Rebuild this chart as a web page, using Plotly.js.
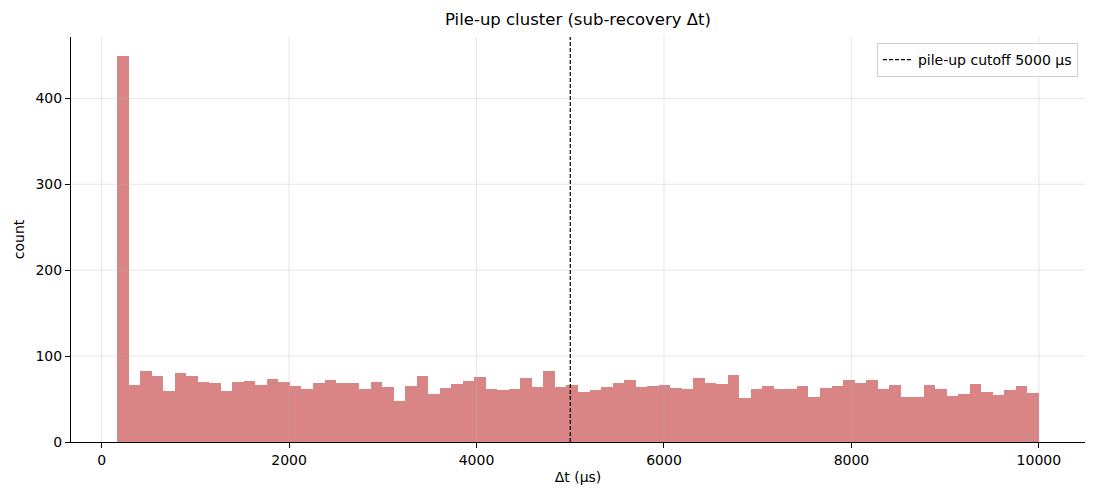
<!DOCTYPE html>
<html>
<head>
<meta charset="utf-8">
<script src="https://cdn.plot.ly/plotly-3.0.1.min.js"></script>
<style>
	html, body { margin: 0; padding: 0; background: #fff; }
	#chart { width: 1100px; height: 500px; }
</style>
</head>
<body>
<div id="chart"></div>
<script>
"use strict";
// histogram of sub-recovery delta t, 80 bins
var BIN_START = 165;    // left edge of first bin (us)
var BIN_WIDTH = 122.94; // bin width (us)
var counts = [
	449, 66, 83, 77, 59, 80, 77, 70, 69, 59,
	70, 71, 66, 73, 70, 65, 62, 69, 72, 69,
	69, 62, 70, 64, 48, 65, 77, 56, 63, 67,
	71, 76, 62, 60, 62, 74, 64, 83, 64, 66,
	58, 60, 64, 69, 72, 64, 65, 66, 63, 62,
	74, 69, 67, 78, 51, 62, 65, 62, 62, 65,
	52, 63, 65, 72, 69, 72, 62, 66, 52, 52,
	66, 62, 53, 56, 67, 58, 55, 60, 65, 57
];
var CUTOFF = 5000;
var cutoffLabel = 'pile-up cutoff 5000 μs';
var xTicks = [0, 2000, 4000, 6000, 8000, 10000];
var xTickText = ['0', '2000', '4000', '6000', '8000', '10000'];
var yTicks = [0, 100, 200, 300, 400];

//bin centres
var centres = counts.map(function(c, i){
	return BIN_START + BIN_WIDTH * (i + 0.5);
});

var FONT = 'DejaVu Sans, sans-serif';
var GRID = 'rgba(176,176,176,0.3)';

var bars = {
	type: 'bar',
	x: centres,
	y: counts,
	width: BIN_WIDTH,
	marker: { color: 'rgba(205,92,92,0.75)', line: { width: 0 } },
	showlegend: false,
	hoverinfo: 'x+y'
};

var lastEdge = BIN_START + BIN_WIDTH * counts.length;
var pad = (lastEdge - BIN_START) * 0.05;
var yMax = Math.max.apply(null, counts) * 1.05;

//grid drawn over the bars, as in the reference
var shapes = [];
xTicks.forEach(function(v){
	shapes.push({ type: 'line', xref: 'x', yref: 'paper', x0: v, x1: v, y0: 0, y1: 1,
		line: { color: GRID, width: 1 }, layer: 'above' });
});
yTicks.forEach(function(v){
	if (v === 0) return;
	shapes.push({ type: 'line', xref: 'paper', yref: 'y', x0: 0, x1: 1, y0: v, y1: v,
		line: { color: GRID, width: 1 }, layer: 'above' });
});
shapes.push({
	type: 'line',
	xref: 'x', yref: 'paper',
	x0: CUTOFF, x1: CUTOFF, y0: 0, y1: 1,
	line: { color: '#000', width: 1.2, dash: '4px,2px' },
	layer: 'above',
	showlegend: true,
	name: cutoffLabel
});

var layout = {
	width: 1100,
	height: 500,
	margin: { l: 71, r: 15, t: 37, b: 58 },
	paper_bgcolor: '#fff',
	plot_bgcolor: '#fff',
	font: { family: FONT, size: 14, color: '#000' },
	bargap: 0,
	title: {
		text: 'Pile-up cluster (sub-recovery Δt)',
		font: { family: FONT, size: 16.5, color: '#000' },
		x: 0.5, xref: 'paper', xanchor: 'center',
		y: 1, yref: 'container', yanchor: 'top', pad: { t: 13 }
	},
	xaxis: {
		range: [BIN_START - pad, lastEdge + pad],
		tickvals: xTicks,
		ticktext: xTickText,
		ticks: 'outside', ticklen: 5, tickcolor: '#000', tickwidth: 1,
		showline: true, linecolor: '#000', linewidth: 1,
		showgrid: false,
		zeroline: false,
		title: { text: 'Δt (μs)', font: { family: FONT, size: 14 }, standoff: 5 }
	},
	yaxis: {
		range: [0, yMax],
		tickvals: yTicks,
		ticks: 'outside', ticklen: 5, tickcolor: '#000', tickwidth: 1,
		showline: true, linecolor: '#000', linewidth: 1,
		showgrid: false,
		zeroline: false,
		title: { text: 'count', font: { family: FONT, size: 14 }, standoff: 7 }
	},
	shapes: shapes,
	legend: {
		x: 0.993, y: 0.985, xanchor: 'right', yanchor: 'top',
		bgcolor: 'rgba(255,255,255,0.8)',
		bordercolor: '#d0d0d0', borderwidth: 1,
		font: { family: FONT, size: 14 }
	}
};

Plotly.newPlot('chart', [bars], layout, { displayModeBar: false, staticPlot: true });
</script>
</body>
</html>
